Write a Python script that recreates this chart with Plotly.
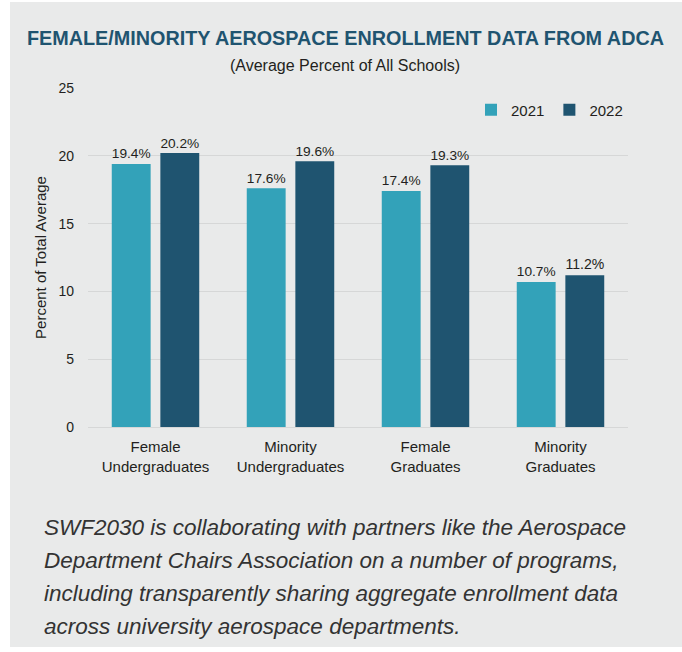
import plotly.graph_objects as go

categories = ["Female<br>Undergraduates", "Minority<br>Undergraduates", "Female<br>Graduates", "Minority<br>Graduates"]
series_names = ["2021", "2022"]
values_2021 = [19.4, 17.6, 17.4, 10.7]
values_2022 = [20.2, 19.6, 19.3, 11.2]
y_ticks = [0, 5, 10, 15, 20, 25]

title_text = "FEMALE/MINORITY AEROSPACE ENROLLMENT DATA FROM ADCA"
subtitle_text = "(Average Percent of All Schools)"
y_title = "Percent of Total Average"
caption_lines = [
    "SWF2030 is collaborating with partners like the Aerospace",
    "Department Chairs Association on a number of programs,",
    "including transparently sharing aggregate enrollment data",
    "across university aerospace departments.",
]

W, H = 682, 652
ML, MR, MT, MB = 88, 54, 88, 225
PW = W - ML - MR
PH = H - MT - MB

def px_x(px):
    return (px - ML) / PW

def px_y(py):
    return (H - MB - py) / PH

FONT = "Liberation Sans, Arial, Helvetica, sans-serif"
TXT = "#231f20"
BG = "#e9eaea"
C1 = "#33a2b9"
C2 = "#1f5470"

fig = go.Figure()
for name, vals, col in [(series_names[0], values_2021, C1), (series_names[1], values_2022, C2)]:
    fig.add_trace(go.Bar(
        x=categories, y=vals, name=name, marker=dict(color=col, line=dict(width=0)),
        text=[f"{v:.1f}%" for v in vals], textposition="outside",
        textfont=dict(family=FONT, size=16, color=TXT), cliponaxis=False,
    ))

fig.update_layout(
    width=W, height=H,
    margin=dict(l=ML, r=MR, t=MT, b=MB, pad=0),
    paper_bgcolor="white", plot_bgcolor=BG,
    barmode="group", bargap=0.28, bargroupgap=0.2,
    font=dict(family=FONT, color=TXT),
    showlegend=True,
    legend=dict(orientation="h", x=1.0, xanchor="right", y=px_y(110), yanchor="middle",
                font=dict(family=FONT, size=15, color=TXT), bgcolor="rgba(0,0,0,0)",
                itemwidth=30, tracegroupgap=0),
    xaxis=dict(showgrid=False, tickfont=dict(family=FONT, size=15, color=TXT),
               showline=False, ticks="", ticklabelstandoff=9),
    yaxis=dict(range=[0, 25], tickvals=y_ticks, showgrid=True, gridcolor="#d6d7d7", gridwidth=1,
               zeroline=True, zerolinecolor="#d6d7d7", zerolinewidth=1,
               tickfont=dict(family=FONT, size=14, color=TXT), ticks="", ticklabelstandoff=13,
               title=dict(text=y_title, font=dict(family=FONT, size=15, color=TXT), standoff=8)),
    shapes=[dict(type="rect", xref="paper", yref="paper", layer="below",
                 x0=px_x(10), x1=px_x(W + 2), y0=px_y(647), y1=px_y(2),
                 fillcolor=BG, line=dict(width=0))],
)

ann = [
    dict(text=f"<b>{title_text}</b>", x=px_x(345), y=px_y(38), xanchor="center", yanchor="middle",
         font=dict(family=FONT, size=19.8, color=C2)),
    dict(text=subtitle_text, x=px_x(345), y=px_y(66), xanchor="center", yanchor="middle",
         font=dict(family=FONT, size=16, color=TXT)),
]
for i, line in enumerate(caption_lines):
    ann.append(dict(text=f"<i>{line}</i>", x=px_x(42), y=px_y(527 + i * 33.2), xanchor="left", yanchor="middle",
                    font=dict(family=FONT, size=22.5, color="#333333")))
for a in ann:
    a.update(xref="paper", yref="paper", showarrow=False)
fig.update_layout(annotations=ann)

fig.write_html("out.html", config={"displayModeBar": False},
               post_script="document.body.style.margin='0';")
